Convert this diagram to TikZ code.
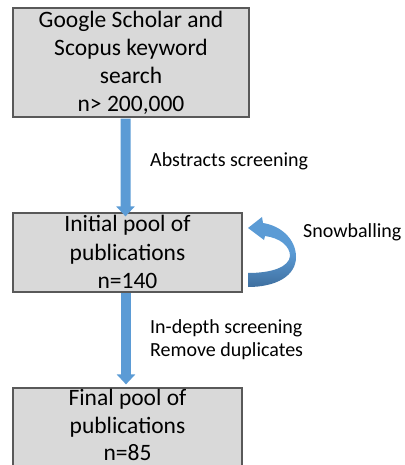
\documentclass[tikz,border=0pt]{standalone}
\usepackage{fontspec}
\setmainfont{Carlito}
\usetikzlibrary{arrows.meta}
\definecolor{boxfill}{HTML}{D9D9D9}
\definecolor{boxline}{HTML}{595959}
\definecolor{arrowblue}{HTML}{5B9BD5}
\definecolor{arrowdark}{HTML}{3F6F9F}
\tikzset{
  box/.style={draw=boxline, fill=boxfill, line width=1.2bp, inner sep=0pt, minimum width=#1},
  bigtext/.style={font=\fontsize{23.5bp}{28bp}\selectfont, align=center, inner sep=0pt, anchor=base},
  smalltext/.style={font=\fontsize{20bp}{23bp}\selectfont, align=left, inner sep=0pt, anchor=base west},
  flowarrow/.style={draw=arrowblue, line width=10bp, -{Triangle[width=18bp,length=10bp]}}
}
\begin{document}
\begin{tikzpicture}[x=1bp,y=-1bp]
\useasboundingbox (0,0) rectangle (404,465);
\clip (0,0) rectangle (404,465);
% boxes
\node[box=236bp, minimum height=109bp] (b1) at (131,62.5) {};
\node[box=229bp, minimum height=79bp] (b2) at (127.5,252.5) {};
\node[box=229bp, minimum height=87bp] (b3) at (127.5,431.5) {};
% box texts
\node[bigtext] (t1a) at (131,27.5) {Google Scholar and};
\node[bigtext] (t1b) at (131,55.5) {Scopus keyword};
\node[bigtext] (t1c) at (131,83.5) {search};
\node[bigtext] (t1d) at (131,112) {n> 200,000};
\node[bigtext] (t2a) at (127.5,232) {Initial pool of};
\node[bigtext] (t2b) at (127.5,260) {publications};
\node[bigtext] (t2c) at (127.5,288) {n=140};
\node[bigtext] (t3a) at (127.5,405) {Final pool of};
\node[bigtext] (t3b) at (127.5,433) {publications};
\node[bigtext] (t3c) at (127.5,460) {n=85};
% arrows
\draw[flowarrow] ([xshift=-5.5bp,yshift=-1bp]b1.south) -- ([xshift=-2bp,yshift=-4bp]b2.north);
\draw[flowarrow] ([xshift=-1.5bp,yshift=-0.5bp]b2.south) -- ([xshift=-1.5bp,yshift=3bp]b3.north);
% labels
\node[smalltext] (l1) at (150,167) {Abstracts screening};
\node[smalltext] (l2) at (150,333) {In-depth screening};
\node[smalltext] (l3) at (150,356) {Remove duplicates};
\node[smalltext] (l4) at (303,237) {Snowballing};
% snowballing curved arrow
\shade[top color=arrowblue, bottom color=arrowdark, middle color=arrowblue]
  (248,228) -- (262,217) -- (263,223)
  .. controls (282,226) and (296,240) .. (296,257)
  .. controls (296,276) and (276,287) .. (248,287)
  -- (248,273)
  .. controls (272,273) and (289,267) .. (290,256)
  .. controls (290,246) and (280,238) .. (265,236)
  -- (264,240) -- cycle;
\end{tikzpicture}
\end{document}
